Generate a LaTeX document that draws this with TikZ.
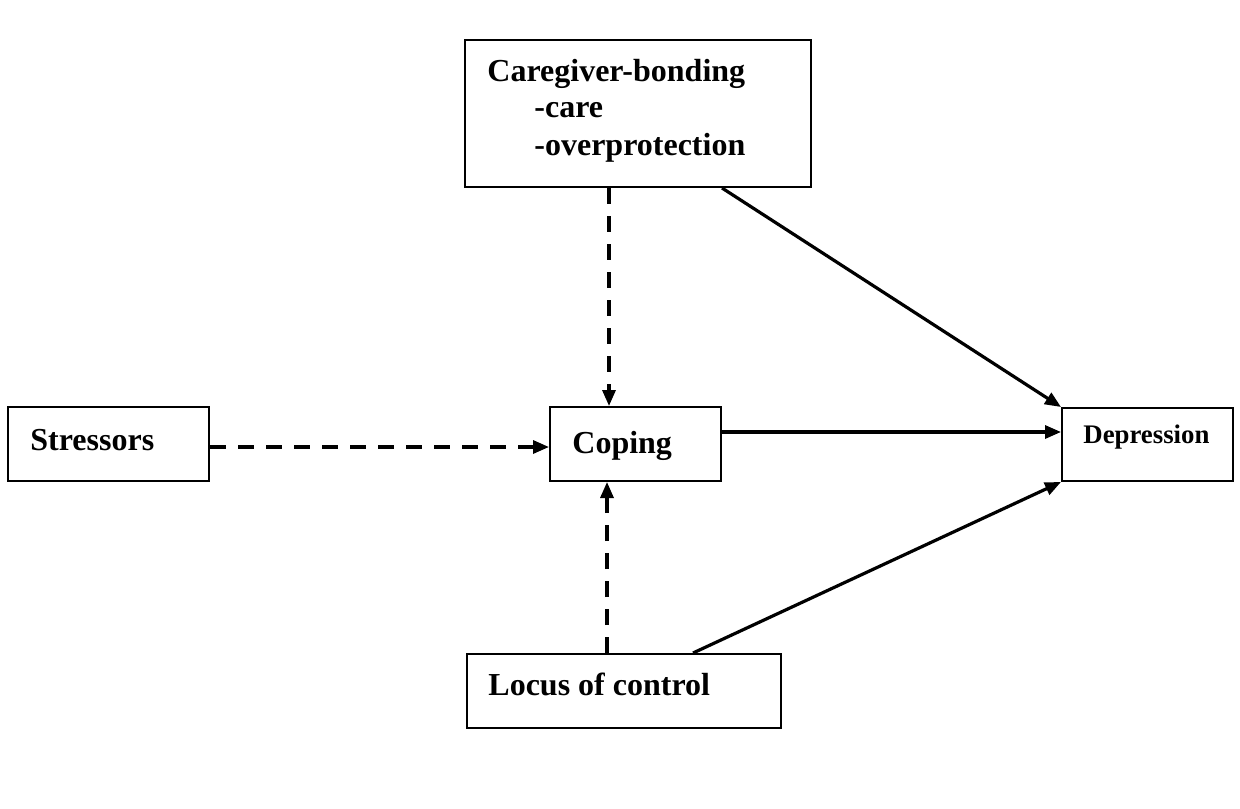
\documentclass[tikz,border=0pt]{standalone}
\usepackage{fontspec}
\setmainfont{Liberation Serif}
\usetikzlibrary{arrows.meta}
\begin{document}
\begin{tikzpicture}[x=0.5pt,y=-0.5pt,
  box/.style={draw, line width=1pt, inner sep=0pt},
  lbl/.style={anchor=base west, inner sep=0pt, font=\bfseries\fontsize{16}{18.5}\selectfont},
  conn/.style={line width=1.6pt, -{Triangle[length=8pt,width=6.5pt]}},
  dashconn/.style={conn, dash pattern=on 8pt off 6pt}]
\useasboundingbox (0,0) rectangle (1240,808);
% boxes
\node[box, minimum width=346*0.5pt, minimum height=147*0.5pt] (cg) at (638,113.5) {};
\node[box, minimum width=201*0.5pt, minimum height=74*0.5pt] (st) at (108.5,444) {};
\node[box, minimum width=171*0.5pt, minimum height=74*0.5pt] (cp) at (635.5,444) {};
\node[box, minimum width=171*0.5pt, minimum height=73*0.5pt] (dp) at (1147.5,444.5) {};
\node[box, minimum width=314*0.5pt, minimum height=74*0.5pt] (lc) at (624,691) {};
% labels
\node[lbl] (cgt1) at (487,82) {Caregiver-bonding};
\node[lbl] (cgt2) at (534,118) {-care};
\node[lbl] (cgt3) at (534,155) {-overprotection};
\node[lbl] (stt) at (30,450) {Stressors};
\node[lbl] (cpt) at (572,453) {Coping};
\node[lbl, font=\bfseries\fontsize{13.4}{15}\selectfont] (dpt) at (1083,443) {Depression};
\node[lbl] (lct) at (488,695) {Locus of control};
% connectors
\draw[dashconn] (st.east |- 0,447) -- (cp.west |- 0,447);
\draw[dashconn] (cg.south -| 609,0) -- (cp.north -| 609,0);
\draw[dashconn] (lc.north -| 607,0) -- (cp.south -| 607,0);
\draw[conn] (cg.south -| 722,0) -- (dp.north west);
\draw[conn] (cp.east |- 0,432) -- (dp.west |- 0,432);
\draw[conn] (lc.north -| 693,0) -- (dp.south west);
\end{tikzpicture}
\end{document}
